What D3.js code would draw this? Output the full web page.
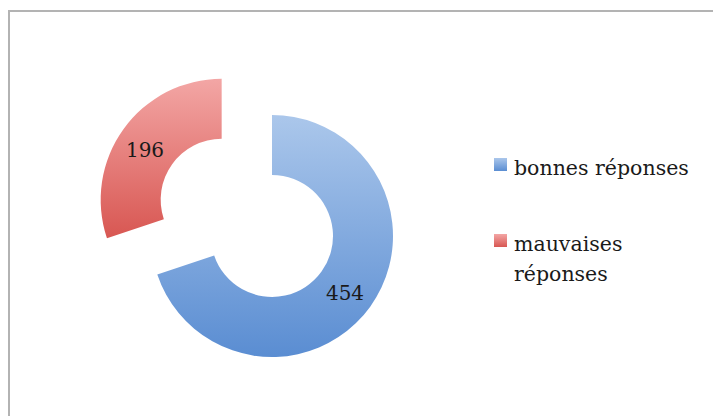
<!DOCTYPE html>
<html>
<head>
<meta charset="utf-8">
<script src="https://cdn.jsdelivr.net/npm/d3@7"></script>
<style>
  body { margin: 0; background: #fff; overflow: hidden; }
  svg { display: block; }
</style>
</head>
<body>
<svg width="713" height="416"></svg>
<script>
// data
var categories = ["bonnes réponses", "mauvaises réponses"];
var values = [454, 196];
var legendLines = [["bonnes réponses"], ["mauvaises", "réponses"]];
var gradTop = ["#abc7eb", "#f3a6a5"];
var gradBottom = ["#5a8dd2", "#d85752"];

var svg = d3.select("svg");

// frame (clipped at right / bottom like the screenshot)
svg.append("rect")
  .attr("x", 9).attr("y", 11)
  .attr("width", 720).attr("height", 420)
  .attr("fill", "#fff")
  .attr("stroke", "#b3b3b3")
  .attr("stroke-width", 2);

var defs = svg.append("defs");
categories.forEach(function(c, i) {
  var g = defs.append("linearGradient")
    .attr("id", "grad" + i)
    .attr("x1", 0).attr("y1", 0).attr("x2", 0).attr("y2", 1);
  g.append("stop").attr("offset", "0%").attr("stop-color", gradTop[i]);
  g.append("stop").attr("offset", "100%").attr("stop-color", gradBottom[i]);
});

var cx = 272, cy = 236, outerR = 121, innerR = 61, explode = 62;

var pie = d3.pie().sort(null).value(function(d) { return d; });
var arc = d3.arc().innerRadius(innerR).outerRadius(outerR);
var arcs = pie(values);

var g = svg.append("g").attr("transform", "translate(" + cx + "," + cy + ")");

function offset(d, i) {
  if (i !== 1) return [0, 0];
  var a = (d.startAngle + d.endAngle) / 2;
  return [Math.sin(a) * explode, -Math.cos(a) * explode];
}

var slices = g.selectAll(".slice")
  .data(arcs)
  .enter().append("g")
  .attr("class", "slice")
  .attr("transform", function(d, i) {
    var o = offset(d, i);
    return "translate(" + o[0] + "," + o[1] + ")";
  });

slices.append("path")
  .attr("d", arc)
  .attr("fill", function(d, i) { return "url(#grad" + i + ")"; });

// value labels
var labelPos = [[73, 58], [-127, -85]];
slices.append("text")
  .attr("x", function(d, i) { return labelPos[i][0] - offset(d, i)[0]; })
  .attr("y", function(d, i) { return labelPos[i][1] - offset(d, i)[1]; })
  .attr("text-anchor", "middle")
  .attr("dominant-baseline", "middle")
  .attr("font-family", "'DejaVu Serif', 'Liberation Serif', serif")
  .attr("font-size", "20px")
  .attr("fill", "#1a1a1a")
  .text(function(d) { return d.data; });

// legend
var legend = svg.append("g");
var legendY = [165, 241];
categories.forEach(function(c, i) {
  legend.append("rect")
    .attr("x", 494).attr("y", legendY[i] - 7)
    .attr("width", 13).attr("height", 13)
    .attr("fill", "url(#grad" + i + ")");
  var t = legend.append("text")
    .attr("x", 514).attr("y", legendY[i] + 10)
    .attr("font-family", "'DejaVu Serif', 'Liberation Serif', serif")
    .attr("font-size", "20.5px")
    .attr("fill", "#1a1a1a");
  legendLines[i].forEach(function(line, j) {
    t.append("tspan").attr("x", 514).attr("dy", j === 0 ? 0 : 30).text(line);
  });
});
</script>
</body>
</html>
